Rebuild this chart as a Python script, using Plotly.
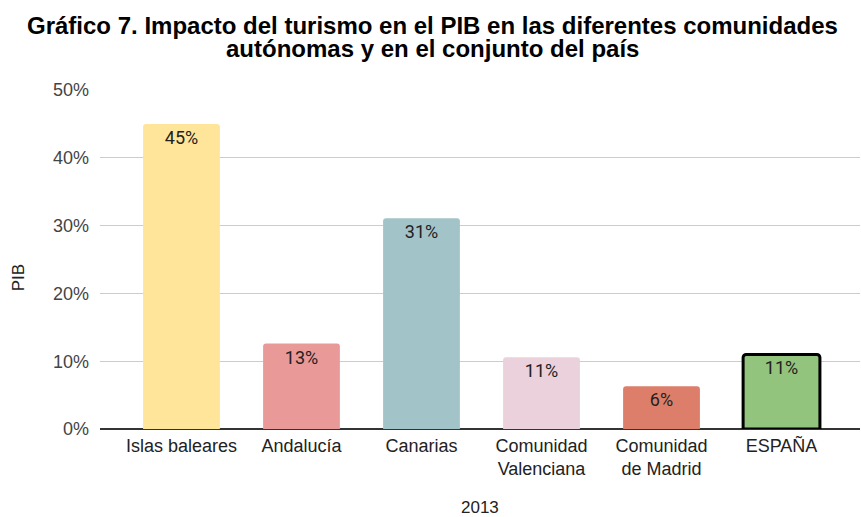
import plotly.graph_objects as go

categories = ["Islas baleares", "Andalucía", "Canarias", "Comunidad<br>Valenciana", "Comunidad<br>de Madrid", "ESPAÑA"]
values = [45.0, 12.6, 31.1, 10.6, 6.3, 11.0]
colors = ["#FFE599", "#EA9999", "#A2C4C9", "#EAD1DC", "#DD7E6B", "#93C47D"]
line_widths = [0, 0, 0, 0, 0, 3]
line_colors = ["rgba(0,0,0,0)"] * 5 + ["#000000"]
y_ticks = [0, 10, 20, 30, 40, 50]
y_tick_labels = ["0%", "10%", "20%", "30%", "40%", "50%"]
title_lines = ["<b>Gráfico 7. Impacto del turismo en el PIB en las diferentes comunidades</b>",
               "<b>autónomas y en el conjunto del país</b>"]
x_title = "2013"
y_title = "PIB"

W, H = 861, 517
L, R, T, B = 100, 1, 89.5, 88
PW, PH = W - L - R, H - T - B


def px_x(x):
    return (x - L) / PW


def px_y(y):
    return (H - B - y) / PH


fig = go.Figure(go.Bar(
    x=list(range(len(categories))),
    y=values,
    width=0.64,
    marker=dict(color=colors, line=dict(width=line_widths, color=line_colors), cornerradius=3),
    texttemplate="%{y:.0f}%",
    textposition="inside",
    insidetextanchor="end",
    textangle=0,
    textfont=dict(family="Roboto", size=18, color="#222222"),
    hoverinfo="skip",
))

annotations = []
for txt, yc in zip(title_lines, [25, 47.5]):
    annotations.append(dict(text=txt, xref="paper", yref="paper", x=px_x(432), y=px_y(yc),
                            xanchor="center", yanchor="middle", showarrow=False,
                            font=dict(family="Liberation Sans", size=24, color="#000000")))
annotations.append(dict(text=x_title, xref="paper", yref="paper", x=px_x(480), y=px_y(507.5),
                        xanchor="center", yanchor="middle", showarrow=False,
                        font=dict(family="Liberation Sans", size=17, color="#222222")))
annotations.append(dict(text=y_title, xref="paper", yref="paper", x=px_x(18), y=px_y(278),
                        xanchor="center", yanchor="middle", showarrow=False, textangle=-90,
                        font=dict(family="Liberation Sans", size=17, color="#222222")))

fig.update_layout(
    width=W, height=H,
    margin=dict(l=L, r=R, t=T, b=B, autoexpand=False),
    paper_bgcolor="white", plot_bgcolor="white",
    showlegend=False,
    uniformtext=dict(mode=False),
    annotations=annotations,
)
fig.update_xaxes(
    range=[-0.679, 5.654], automargin=False,
    tickvals=list(range(len(categories))), ticktext=categories,
    tickfont=dict(family="Liberation Sans", size=18, color="#222222"),
    showgrid=False, zeroline=False, showline=False, ticks="",
    ticklabelstandoff=4,
)
fig.update_yaxes(
    range=[0, 50], automargin=False,
    tickvals=y_ticks, ticktext=y_tick_labels,
    tickfont=dict(family="Liberation Sans", size=18, color="#444444"),
    showgrid=True, gridcolor="#CCCCCC", gridwidth=1,
    zeroline=True, zerolinecolor="#333333", zerolinewidth=2,
    ticks="", ticklen=0,
    ticklabelstandoff=10,
)

fig.write_html("out.html", config={"displayModeBar": False},
               post_script="document.body.style.margin='0';document.body.style.padding='0';")
